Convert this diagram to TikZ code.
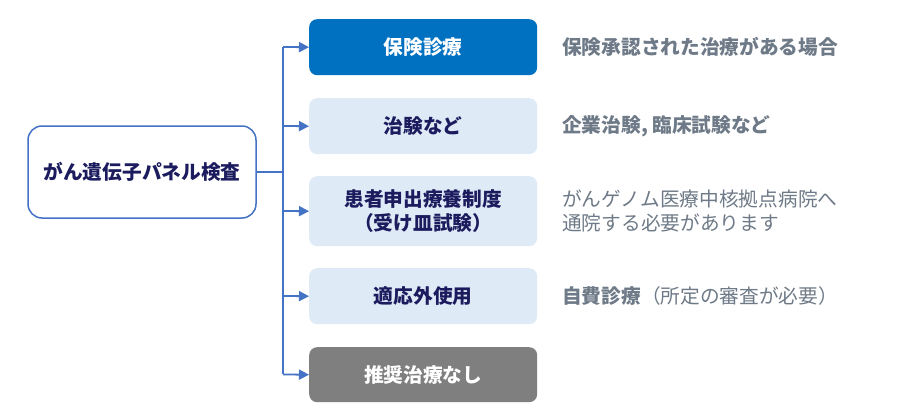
\documentclass[tikz,border=0pt]{standalone}
\usepackage{fontspec}
\setmainfont{Noto Sans CJK JP}
\usetikzlibrary{arrows.meta}
\definecolor{linkblue}{HTML}{4472C4}
\definecolor{darkblue}{HTML}{0070C0}
\definecolor{lightbox}{HTML}{DEEBF7}
\definecolor{grayfill}{HTML}{7F7F7F}
\definecolor{navy}{HTML}{1B1B5E}
\definecolor{note}{HTML}{6E7A87}
\newcommand{\bigfs}{\fontsize{19.7pt}{24.5pt}\selectfont}
\tikzset{
  x=1pt, y=-1pt,
  optbox/.style={rounded corners=8pt, minimum width=228pt, inner sep=0pt, anchor=north west,
    font=\bigfs\bfseries, align=center},
  lightopt/.style={optbox, fill=lightbox, text=navy},
  conn/.style={draw=linkblue, line width=1.8pt, -{Triangle[length=10pt,width=10pt]}},
  notetext/.style={anchor=west, text=note, inner sep=0pt, font=\bigfs, align=left},
}
\begin{document}
\begin{tikzpicture}
\useasboundingbox (0,0) rectangle (913,420);
\fill[white] (0,0) rectangle (913,420);
\node[draw=linkblue, line width=1.5pt, rounded corners=14pt, minimum width=228pt, minimum height=92pt,
  text=navy, font=\bigfs\bfseries] (root) at (142,172) {がん遺伝子パネル検査};
\node[optbox, fill=darkblue, text=white, minimum height=56pt] (o1) at (309,19) {保険診療};
\node[lightopt, minimum height=56pt] (o2) at (309,98) {治験など};
\node[lightopt, minimum height=70pt] (o3) at (309,176) {患者申出療養制度\\（受け皿試験）};
\node[lightopt, minimum height=56pt] (o4) at (309,268) {適応外使用};
\node[optbox, fill=grayfill, text=white, minimum height=55pt] (o5) at (309,347) {推奨治療なし};
\coordinate (j) at (283,172);
\draw[draw=linkblue, line width=1.8pt] (root.east) -- (j);
\draw[draw=linkblue, line width=1.8pt] (283,47) -- (283,374);
\draw[conn] (283,47) -- (o1.west);
\draw[conn] (283,126) -- (o2.west);
\draw[conn] (283,211) -- (o3.west);
\draw[conn] (283,296) -- (o4.west);
\draw[conn] (283,374.5) -- (o5.west);
\node[notetext, font=\bigfs\bfseries] (n1) at (562,47) {保険承認された治療がある場合};
\node[notetext, font=\bigfs\bfseries] (n2) at (562,126) {企業治験, 臨床試験など};
\node[notetext] (n3) at (562,211) {がんゲノム医療中核拠点病院へ\\通院する必要があります};
\node[notetext] (n4) at (562,296) {\textbf{自費診療}（所定の審査が必要）};
\end{tikzpicture}
\end{document}
